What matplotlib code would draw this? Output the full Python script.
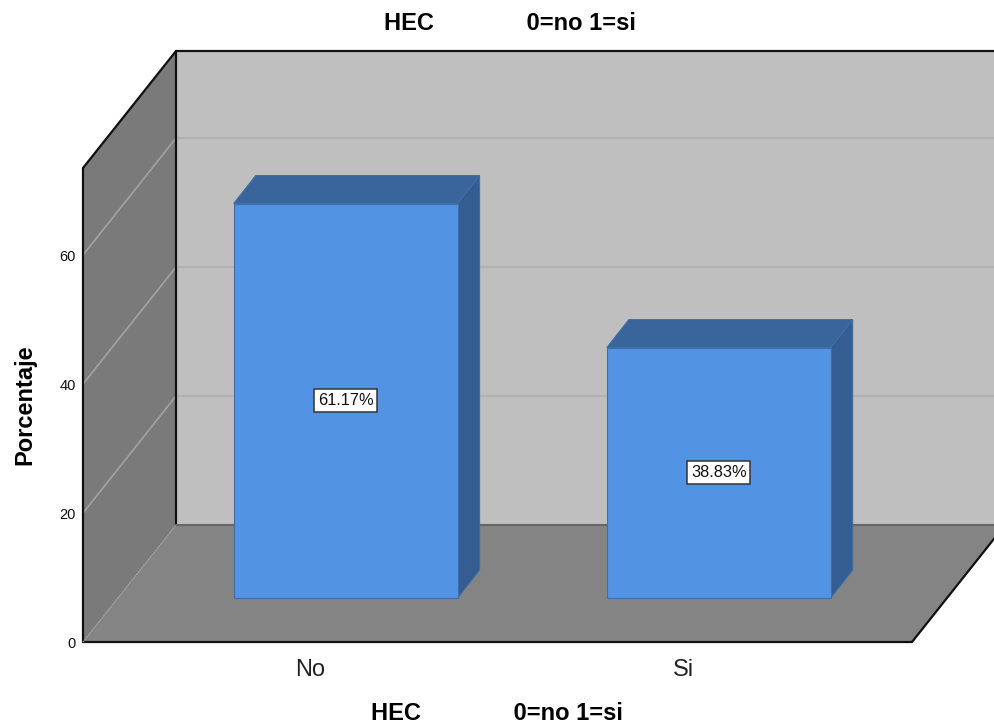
import matplotlib
matplotlib.use("Agg")
import matplotlib.pyplot as plt
from matplotlib.patches import Polygon

plt.rcParams['font.family'] = ['Liberation Sans', 'DejaVu Sans']

categorias = ["No", "Si"]
porcentajes = [61.17, 38.83]
etiquetas = ["61.17%", "38.83%"]
y_ticks = [0, 20, 40, 60]
titulo = "HEC              0=no 1=si"

# caja 3D: profundidad en unidades de los ejes
prof_x, prof_y = 0.2493, 18.14
# barras
ancho = 0.6
prof_bx, prof_by = 0.059, 4.34
desp_x, desp_y = 0.094, 6.82
y_max = 73.5
x_min, x_max = -0.61, 1.612

fig = plt.figure(figsize=(9.94, 7.27), dpi=100)
ax = fig.add_axes([83 / 994, 1 - 642 / 727, (912 - 83) / 994, (642 - 168) / 727])
ax.set_xlim(x_min, x_max)
ax.set_ylim(0, y_max)
ax.patch.set_visible(False)
for s in ax.spines.values():
    s.set_visible(False)


def poli(puntos, color, borde="none", lw=0, z=1):
    p = Polygon(puntos, closed=True, facecolor=color, edgecolor=borde, linewidth=lw,
                zorder=z, clip_on=False)
    ax.add_patch(p)


# paredes y suelo
poli([(x_min + prof_x, prof_y), (x_max + prof_x, prof_y),
      (x_max + prof_x, y_max + prof_y), (x_min + prof_x, y_max + prof_y)], "#BFBFBF")
poli([(x_min, 0), (x_min + prof_x, prof_y), (x_min + prof_x, y_max + prof_y), (x_min, y_max)], "#7A7A7A")
poli([(x_min, 0), (x_max, 0), (x_max + prof_x, prof_y), (x_min + prof_x, prof_y)], "#848484")

# lineas de rejilla
for v in y_ticks[1:]:
    ax.plot([x_min, x_min + prof_x], [v, v + prof_y], color="#A0A0A0", lw=1.3, zorder=2, clip_on=False)
    ax.plot([x_min + prof_x, x_max + prof_x], [v + prof_y, v + prof_y], color="#B1B1B1", lw=1.5,
            zorder=2, clip_on=False)

# bordes de la caja
negro = dict(color="#111111", lw=1.6, zorder=3, clip_on=False, solid_capstyle="round")
ax.plot([x_min, x_min], [0, y_max], **negro)
ax.plot([x_min, x_min + prof_x], [y_max, y_max + prof_y], **negro)
ax.plot([x_min + prof_x, x_max + prof_x], [y_max + prof_y, y_max + prof_y], **negro)
ax.plot([x_min + prof_x, x_min + prof_x], [prof_y, y_max + prof_y], **negro)
ax.plot([x_min, x_max], [0, 0], **negro)
ax.plot([x_max, x_max + prof_x], [0, prof_y], **negro)
ax.plot([x_min + prof_x, x_max + prof_x], [prof_y, prof_y], color="#666666", lw=1.5, zorder=3, clip_on=False)
ax.plot([x_min, x_min + prof_x], [0, prof_y], color="#A0A0A0", lw=1, ls=(0, (1, 1)), zorder=3, clip_on=False)

# barras
for i, v in enumerate(porcentajes):
    x0 = i + desp_x - ancho / 2
    x1 = i + desp_x + ancho / 2
    y0 = desp_y
    y1 = desp_y + v
    borde = "#3F6FA6"
    poli([(x0, y1), (x1, y1), (x1 + prof_bx, y1 + prof_by), (x0 + prof_bx, y1 + prof_by)],
         "#39659C", borde, 0.8, 4)
    poli([(x1, y0), (x1 + prof_bx, y0 + prof_by), (x1 + prof_bx, y1 + prof_by), (x1, y1)],
         "#345D92", borde, 0.8, 4)
    poli([(x0, y0), (x1, y0), (x1, y1), (x0, y1)], "#5294E3", borde, 0.8, 5)
    ax.text(i + desp_x, y0 + v / 2, etiquetas[i], ha="center", va="center", fontsize=11.8,
            color="#111111", zorder=6,
            bbox=dict(facecolor="white", edgecolor="#333333", linewidth=1.1, boxstyle="square,pad=0.24"))

ax.set_xticks(range(len(categorias)))
ax.set_xticklabels(categorias, fontsize=17, color="#222222")
ax.set_yticks(y_ticks)
ax.set_yticklabels([str(v) for v in y_ticks], fontsize=10.5, color="#111111")
ax.tick_params(axis="both", length=0)
ax.tick_params(axis="x", pad=12)
ax.tick_params(axis="y", pad=5)

fig.text(510 / 994, 1 - 24 / 727, titulo, ha="center", va="center", fontsize=17, fontweight="bold")
fig.text(497 / 994, 1 - 713 / 727, titulo, ha="center", va="center", fontsize=17, fontweight="bold")
fig.text(25 / 994, 1 - 405 / 727, "Porcentaje", ha="center", va="center", rotation=90,
         fontsize=17, fontweight="bold")

fig.savefig("out.png", dpi=100)
